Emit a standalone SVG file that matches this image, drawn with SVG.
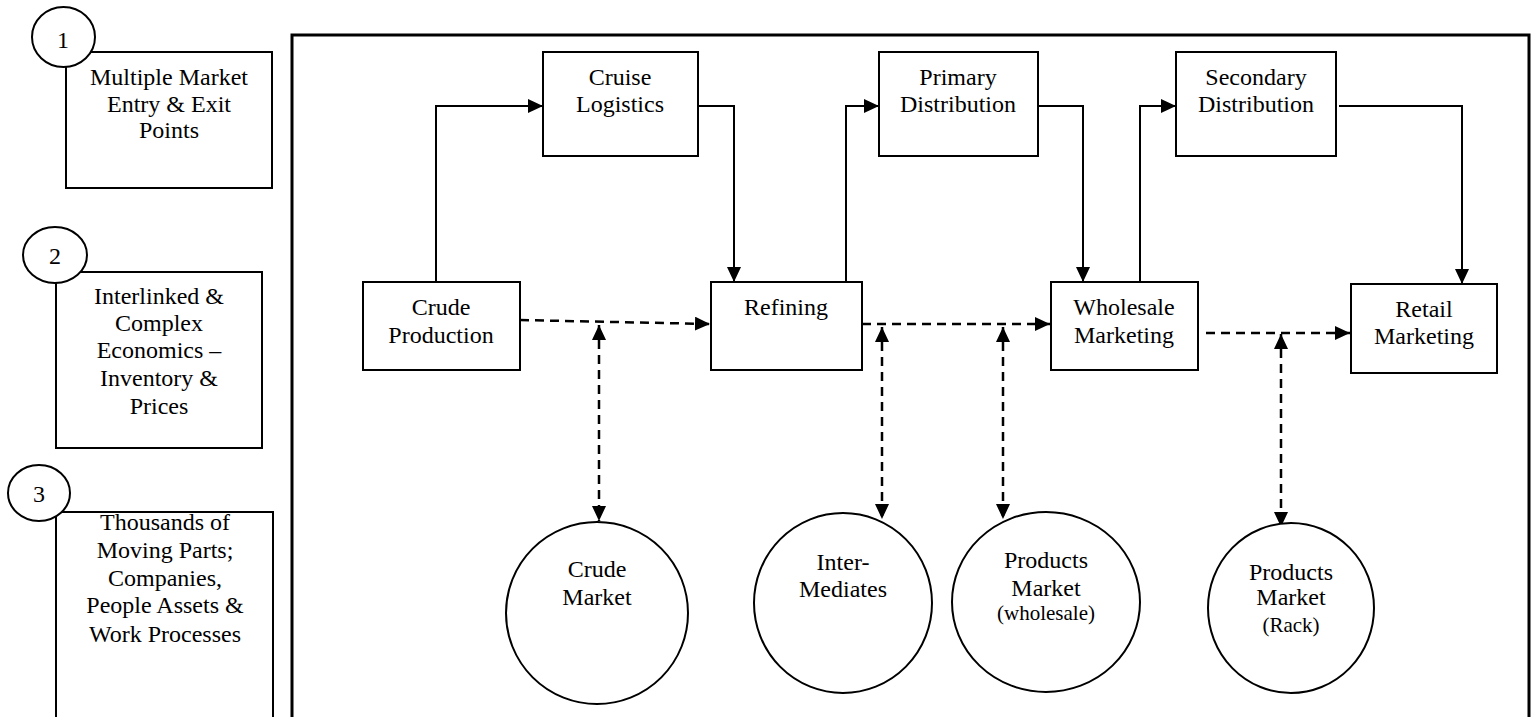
<svg xmlns="http://www.w3.org/2000/svg" width="1532" height="717" viewBox="0 0 1532 717">
<style>
text{font-family:"Liberation Serif","Times New Roman",serif;font-size:24px;fill:#000;text-anchor:middle}
.sm{font-size:21px}
.box{fill:#fff;stroke:#000;stroke-width:2}
.num{fill:#fff;stroke:#000;stroke-width:2}
.frame{fill:none;stroke:#000;stroke-width:3}
.solid{fill:none;stroke:#000;stroke-width:2}
.dash{fill:none;stroke:#000;stroke-width:2.5;stroke-dasharray:9 6}
</style>
<defs>
<marker id="arr" viewBox="0 0 15 14" refX="15" refY="7" markerWidth="15" markerHeight="14" markerUnits="userSpaceOnUse" orient="auto-start-reverse">
<path d="M0,0 L15,7 L0,14 z" fill="#000"/>
</marker>
</defs>
<rect width="1532" height="717" fill="#fff"/>

<g id="legend1">
<rect class="box" x="66" y="52" width="206" height="136"/>
<ellipse class="num" cx="63.5" cy="37" rx="31.5" ry="30"/>
<text x="63" y="48">1</text>
<text x="169" y="85">Multiple Market</text>
<text x="169" y="112">Entry &amp; Exit</text>
<text x="169" y="138">Points</text>
</g>
<g id="legend2">
<rect class="box" x="56" y="272" width="206" height="176"/>
<ellipse class="num" cx="55" cy="255" rx="32" ry="28"/>
<text x="55" y="264">2</text>
<text x="159" y="304">Interlinked &amp;</text>
<text x="159" y="331">Complex</text>
<text x="159" y="358">Economics –</text>
<text x="159" y="386">Inventory &amp;</text>
<text x="159" y="414">Prices</text>
</g>
<g id="legend3">
<rect class="box" x="56" y="512" width="217" height="230"/>
<ellipse class="num" cx="39" cy="493" rx="31" ry="28"/>
<text x="39" y="502">3</text>
<text x="165" y="530">Thousands of</text>
<text x="165" y="558">Moving Parts;</text>
<text x="165" y="586">Companies,</text>
<text x="165" y="613">People Assets &amp;</text>
<text x="165" y="642">Work Processes</text>
</g>

<path id="frame" class="frame" d="M292,730 V35 H1529 V730"/>

<g id="connectors">
<path class="solid" d="M436,282 V106 H543" marker-end="url(#arr)"/>
<path class="solid" d="M698,106 H734 V282" marker-end="url(#arr)"/>
<path class="solid" d="M846,282 V106 H879" marker-end="url(#arr)"/>
<path class="solid" d="M1038,106 H1083 V282" marker-end="url(#arr)"/>
<path class="solid" d="M1140,282 V106 H1176" marker-end="url(#arr)"/>
<path class="solid" d="M1339,106 H1462 V284" marker-end="url(#arr)"/>
<path class="dash" d="M520,320 L710,324" marker-end="url(#arr)"/>
<path class="dash" d="M862,324 H1050" marker-end="url(#arr)"/>
<path class="dash" d="M1206,333 H1350" marker-end="url(#arr)"/>
<path class="dash" d="M599,325 V521" marker-start="url(#arr)" marker-end="url(#arr)"/>
<path class="dash" d="M882,327 V519" marker-start="url(#arr)" marker-end="url(#arr)"/>
<path class="dash" d="M1003,327 V519" marker-start="url(#arr)" marker-end="url(#arr)"/>
<path class="dash" d="M1281,334 V527" marker-start="url(#arr)" marker-end="url(#arr)"/>
</g>

<g id="cruise-logistics">
<rect class="box" x="543" y="52" width="155" height="104"/>
<text x="620" y="85">Cruise</text>
<text x="620" y="112">Logistics</text>
</g>
<g id="primary-distribution">
<rect class="box" x="879" y="52" width="159" height="104"/>
<text x="958" y="85">Primary</text>
<text x="958" y="112">Distribution</text>
</g>
<g id="secondary-distribution">
<rect class="box" x="1176" y="52" width="160" height="104"/>
<text x="1256" y="85">Secondary</text>
<text x="1256" y="112">Distribution</text>
</g>
<g id="crude-production">
<rect class="box" x="363" y="282" width="157" height="88"/>
<text x="441" y="315">Crude</text>
<text x="441" y="343">Production</text>
</g>
<g id="refining">
<rect class="box" x="711" y="282" width="151" height="88"/>
<text x="786" y="315">Refining</text>
</g>
<g id="wholesale-marketing">
<rect class="box" x="1051" y="282" width="147" height="88"/>
<text x="1124" y="315">Wholesale</text>
<text x="1124" y="343">Marketing</text>
</g>
<g id="retail-marketing">
<rect class="box" x="1351" y="284" width="146" height="89"/>
<text x="1424" y="317">Retail</text>
<text x="1424" y="344">Marketing</text>
</g>
<g id="crude-market">
<ellipse class="box" cx="597" cy="613" rx="91" ry="91"/>
<text x="597" y="577">Crude</text>
<text x="597" y="605">Market</text>
</g>
<g id="intermediates">
<ellipse class="box" cx="843" cy="603" rx="89" ry="90"/>
<text x="843" y="570">Inter-</text>
<text x="843" y="597">Mediates</text>
</g>
<g id="products-wholesale">
<ellipse class="box" cx="1046" cy="602" rx="94" ry="90"/>
<text x="1046" y="568">Products</text>
<text x="1046" y="596">Market</text>
<text class="sm" x="1046" y="620">(wholesale)</text>
</g>
<g id="products-rack">
<ellipse class="box" cx="1291" cy="608" rx="83" ry="85"/>
<text x="1291" y="580">Products</text>
<text x="1291" y="605">Market</text>
<text class="sm" x="1291" y="632">(Rack)</text>
</g>
</svg>
